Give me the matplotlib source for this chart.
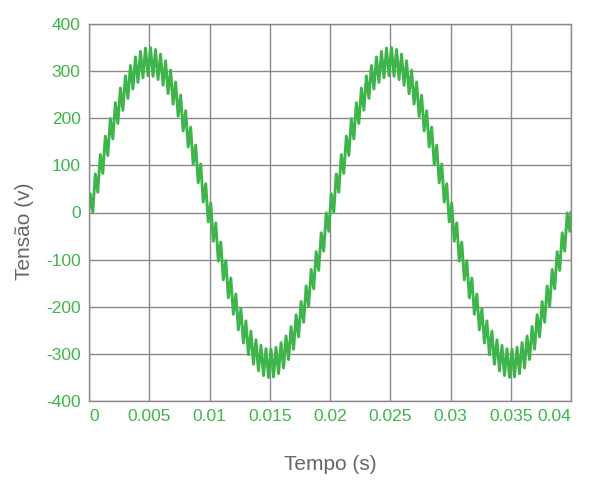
import matplotlib.pyplot as plt
import numpy as np

plt.rcParams['font.family'] = ['Liberation Sans', 'DejaVu Sans']
plt.rcParams['axes.unicode_minus'] = False

# tensão: picos e vales do ripple (0 a 0.04 s)
tensao_ciclo1 = [8,
    40, 1, 82, 43, 123, 83, 162, 121, 199, 156, 233, 189, 264, 217, 290, 242,
    312, 262, 330, 276, 342, 286, 349, 290, 350, 289, 346, 282, 336, 270, 322,
    252, 302, 230, 277, 204, 249, 173, 216, 139, 181, 102, 143, 63, 103, 22,
    61, -20, 20, -61, -22, -103, -63, -143, -102, -181, -139, -216, -173, -249,
    -204, -277, -230, -302, -252, -322, -270, -336, -282, -346, -289, -350,
    -290, -349, -286, -342, -276, -330, -262, -312, -242, -290, -217, -264,
    -189, -233, -156, -199, -121, -162, -83, -123, -43, -82, -1, -40]
tensao_ciclo2 = [
    40, 1, 82, 43, 123, 83, 162, 121, 199, 156, 233, 189, 264, 217, 290, 242,
    312, 262, 330, 276, 342, 286, 349, 290, 350, 289, 346, 282, 336, 270, 322,
    252, 302, 230, 277, 204, 249, 173, 216, 139, 181, 102, 143, 63, 103, 22,
    61, -20, 20, -61, -22, -103, -63, -143, -102, -181, -139, -216, -173, -249,
    -204, -277, -230, -302, -252, -322, -270, -336, -282, -346, -289, -350,
    -290, -349, -286, -342, -276, -330, -262, -312, -242, -290, -217, -264,
    -189, -233, -156, -199, -121, -162, -83, -123, -43, -82, -1, -40, 0]
tensao = tensao_ciclo1 + tensao_ciclo2

x_ticks = [0, 0.005, 0.01, 0.015, 0.02, 0.025, 0.03, 0.035, 0.04]
x_labels = ['0', '0.005', '0.01', '0.015', '0.02', '0.025', '0.03', '0.035', '0.04']
y_ticks = [-400, -300, -200, -100, 0, 100, 200, 300, 400]

# instantes de amostragem: meio passo entre pontos, com as pontas em 0 e 0.04
passo = 0.04 / 192
tempo = np.concatenate(([0.0], (np.arange(192) + 0.5) * passo, [0.04]))

verde = '#3db54a'
cinza = '#8a8a8a'

fig = plt.figure(figsize=(6.02, 4.91), dpi=100)
ax = fig.add_axes([89 / 602, 1 - 401 / 491, (571 - 89) / 602, (401 - 24) / 491])

ax.plot(tempo, tensao, color=verde, lw=2.1, solid_joinstyle='round')

ax.set_xlim(0, 0.04)
ax.set_ylim(-400, 400)
ax.set_xticks(x_ticks)
ax.set_xticklabels(x_labels)
ax.set_yticks(y_ticks)
ax.tick_params(length=0, labelsize=12.5, labelcolor=verde)
ax.tick_params(axis='x', pad=6)
ax.tick_params(axis='y', pad=6)
labels = ax.get_xticklabels()
labels[0].set_horizontalalignment('left')
labels[-1].set_horizontalalignment('right')

ax.grid(True, color=cinza, lw=1.0)
ax.set_axisbelow(True)
for s in ax.spines.values():
    s.set_color(cinza)
    s.set_linewidth(1.0)

fig.text(25 / 602, 1 - 231 / 491, 'Tensão (v)', rotation=90, ha='center', va='center',
         fontsize=15, color='#666666')
fig.text(330 / 602, 1 - 465 / 491, 'Tempo (s)', ha='center', va='center',
         fontsize=15, color='#666666')

plt.savefig('out.png', dpi=100)
